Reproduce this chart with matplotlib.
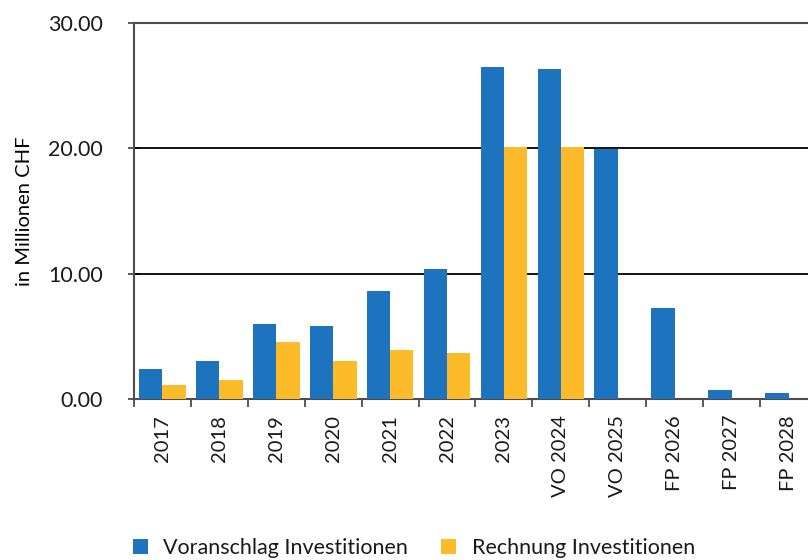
import matplotlib
matplotlib.use("Agg")
import matplotlib.pyplot as plt
import numpy as np

categories = ["2017", "2018", "2019", "2020", "2021", "2022", "2023",
              "VO 2024", "VO 2025", "FP 2026", "FP 2027", "FP 2028"]
voranschlag = [2.41, 3.05, 6.01, 5.85, 8.58, 10.34, 26.46, 26.30, 19.97, 7.29, 0.74, 0.51]
rechnung = [1.12, 1.52, 4.57, 3.05, 3.93, 3.69, 20.07, 20.07, np.nan, np.nan, np.nan, np.nan]
yticks = [0, 10, 20, 30]
series_names = ["Voranschlag Investitionen", "Rechnung Investitionen"]

blue = "#1E73BE"
orange = "#FDBB2A"
axis_gray = "#4d4d4d"

plt.rcParams['font.family'] = ['Lato', 'DejaVu Sans']
plt.rcParams['text.color'] = '#1a1a1a'
plt.rcParams['xtick.labelcolor'] = '#1a1a1a'
plt.rcParams['ytick.labelcolor'] = '#1a1a1a'

fig = plt.figure(figsize=(8.08, 5.60), dpi=100)
ax = fig.add_axes([134/808, 1-399/560, 683/808, 376/560])

x = np.arange(len(categories))
w = 0.41
b1 = ax.bar(x - w/2, voranschlag, w, color=blue, label=series_names[0], zorder=3)
b2 = ax.bar(x + w/2, rechnung, w, color=orange, label=series_names[1], zorder=3)

ax.set_xlim(-0.5, len(categories) - 0.5)
ax.set_ylim(0, 30)
ax.set_yticks(yticks)
ax.set_yticklabels([f"{v:.2f}" for v in yticks], fontsize=15.5)
for yv in yticks[1:-1]:
    ax.axhline(yv, color="black", lw=1.3, zorder=2)

ax.set_xticks(x)
ax.set_xticklabels(categories, rotation=90, fontsize=14.5)
ax.set_xticks(np.arange(len(categories) + 1) - 0.5, minor=True)
ax.tick_params(axis='x', which='major', length=0, pad=11.5)
ax.tick_params(axis='x', which='minor', length=6, width=1.3, color=axis_gray, direction='out')
ax.tick_params(axis='y', length=8.6, width=1.3, color=axis_gray, direction='inout', pad=18)

ax.spines["right"].set_visible(False)
for s in ["left", "bottom", "top"]:
    ax.spines[s].set_color(axis_gray)
    ax.spines[s].set_linewidth(1.5)

ax.set_ylabel("in Millionen CHF", fontsize=14.5, labelpad=11)

fig.legend(handles=[b1, b2], loc="center left", bbox_to_anchor=(133/808, 1-548/560),
           ncol=2, frameon=False, fontsize=15.5, handlelength=0.7, handleheight=0.7,
           columnspacing=1.55, handletextpad=0.7, borderpad=0, borderaxespad=0)

fig.savefig("out.png", dpi=100)
